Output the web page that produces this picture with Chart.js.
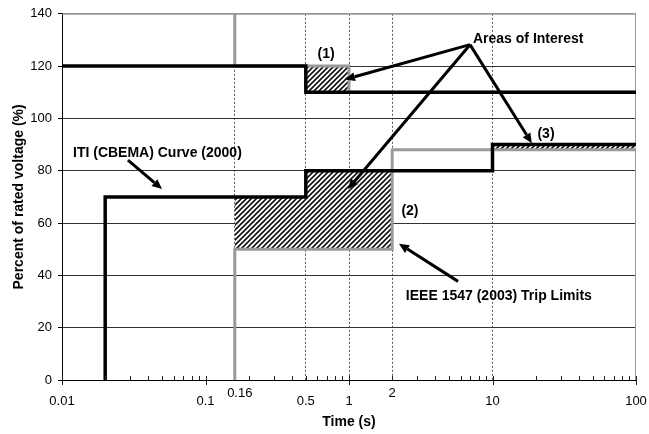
<!DOCTYPE html>
<html>
<head>
<meta charset="utf-8">
<script src="https://cdn.jsdelivr.net/npm/chart.js@4/dist/chart.umd.min.js"></script>
<style>
  body { margin: 0; background: #fff; }
  #wrap { width: 649px; height: 434px; }
</style>
</head>
<body>
<div id="wrap"><canvas id="chart" width="649" height="434"></canvas></div>
<script>
// ITI (CBEMA) curve, black
const itiUpperX = [0.01, 0.5, 0.5, 100];
const itiUpperY = [120, 120, 110, 110];
const itiLowerX = [0.02, 0.02, 0.5, 0.5, 10, 10, 100];
const itiLowerY = [0, 70, 70, 80, 80, 90, 90];

// IEEE 1547 (2003) trip limits, grey
const ieeeUpperX = [0.16, 0.16, 1, 1, 100];
const ieeeUpperY = [140, 120, 120, 110, 110];
const ieeeLowerX = [0.16, 0.16, 2, 2, 100];
const ieeeLowerY = [0, 50, 50, 88, 88];

// hatched areas of interest (top edge + base value)
const area1X = [0.5, 1];
const area1Top = [120, 120];
const area1Base = 110;
const area2X = [0.16, 0.5, 0.5, 2];
const area2Top = [70, 70, 80, 80];
const area2Base = 50;
const area3X = [10, 100];
const area3Top = [90, 90];
const area3Base = 88;

// axis ticks
const xTickValues = [0.01, 0.1, 0.16, 0.5, 1, 2, 10, 100];
const xTickLabels = ['0.01', '0.1', '0.16', '0.5', '1', '2', '10', '100'];
const xDashedAt = [0.16, 0.5, 1, 2, 10];

const pts = (xs, ys) => xs.map((x, i) => ({ x: x, y: ys[i] }));

Chart.defaults.font.family = '"Liberation Sans", Arial, sans-serif';
Chart.defaults.color = '#000';

// diagonal hatch
const pc = document.createElement('canvas');
pc.width = 5; pc.height = 5;
const p = pc.getContext('2d');
p.fillStyle = '#fff';
p.fillRect(0, 0, 5, 5);
p.strokeStyle = '#111';
p.lineWidth = 1.6;
p.beginPath();
p.moveTo(0, 5); p.lineTo(5, 0);
p.moveTo(-1, 1); p.lineTo(1, -1);
p.moveTo(4, 6); p.lineTo(6, 4);
p.stroke();
const hatch = document.getElementById('chart').getContext('2d').createPattern(pc, 'repeat');

const overlay = {
  id: 'overlay',
  beforeDatasetsDraw(chart) {
    const { ctx, chartArea: a } = chart;
    ctx.save();
    ctx.strokeStyle = '#999';
    ctx.lineWidth = 1;
    ctx.beginPath();
    ctx.moveTo(a.left, a.top + 0.5);
    ctx.lineTo(a.right - 0.5, a.top + 0.5);
    ctx.lineTo(a.right - 0.5, a.bottom);
    ctx.stroke();
    ctx.restore();
  },
  afterDraw(chart) {
    const { ctx, chartArea: a, scales: { x, y } } = chart;
    ctx.save();

    // x tick marks, major decades cross the axis, minor ones point inward
    ctx.strokeStyle = '#222';
    ctx.lineWidth = 1;
    for (let e = -2; e <= 2; e++) {
      for (let m = 1; m <= 9; m++) {
        const v = m * Math.pow(10, e);
        if (v > 100.0001) break;
        const px = Math.round(x.getPixelForValue(v)) + 0.5;
        ctx.beginPath();
        ctx.moveTo(px, a.bottom - 4);
        ctx.lineTo(px, m === 1 ? a.bottom + 5 : a.bottom);
        ctx.stroke();
      }
    }

    // x tick labels (0.16 and 2 sit a little higher)
    ctx.font = '13px "Liberation Sans", Arial, sans-serif';
    ctx.fillStyle = '#000';
    ctx.textAlign = 'center';
    ctx.textBaseline = 'middle';
    xTickValues.forEach((v, i) => {
      const raised = v === 0.16 || v === 2;
      const dx = v === 0.16 ? 5 : 0;
      ctx.fillText(xTickLabels[i], x.getPixelForValue(v) + dx, a.bottom + (raised ? 13 : 21));
    });

    // annotations
    const P = (vx, vy) => [x.getPixelForValue(vx), y.getPixelForValue(vy)];
    const arrow = (from, to) => {
      const [x0, y0] = P(from[0], from[1]);
      const [x1, y1] = P(to[0], to[1]);
      const ang = Math.atan2(y1 - y0, x1 - x0);
      const len = 10, half = 4.5;
      const bx = x1 - len * Math.cos(ang), by = y1 - len * Math.sin(ang);
      ctx.strokeStyle = '#000';
      ctx.lineWidth = 3;
      ctx.beginPath();
      ctx.moveTo(x0, y0);
      ctx.lineTo(bx, by);
      ctx.stroke();
      ctx.fillStyle = '#000';
      ctx.beginPath();
      ctx.moveTo(x1, y1);
      ctx.lineTo(bx + half * Math.sin(ang), by - half * Math.cos(ang));
      ctx.lineTo(bx - half * Math.sin(ang), by + half * Math.cos(ang));
      ctx.closePath();
      ctx.fill();
    };
    const apex = [6.97, 128.2];
    arrow(apex, [0.937, 114.9]);
    arrow(apex, [0.984, 73]);
    arrow(apex, [18.8, 90.5]);
    arrow([0.0288, 84.1], [0.0498, 73]);
    arrow([5.75, 37.7], [2.23, 52.1]);

    ctx.font = 'bold 14px "Liberation Sans", Arial, sans-serif';
    ctx.fillStyle = '#000';
    ctx.textBaseline = 'middle';
    const label = (text, vx, vy, align) => {
      const [px, py] = P(vx, vy);
      ctx.textAlign = align;
      ctx.fillText(text, px, py);
    };
    label('Areas of Interest', 7.31, 130.5, 'left');
    label('(1)', 0.692, 124.4, 'center');
    label('(2)', 2.66, 64.7, 'center');
    label('(3)', 23.6, 94, 'center');
    label('ITI (CBEMA) Curve (2000)', 0.01193, 86.7, 'left');
    label('IEEE 1547 (2003) Trip Limits', 2.49, 32, 'left');

    ctx.restore();
  }
};

new Chart(document.getElementById('chart'), {
  type: 'line',
  data: {
    datasets: [
      { label: 'ITI upper', data: pts(itiUpperX, itiUpperY), borderColor: '#000', borderWidth: 3.5, fill: false },
      { label: 'ITI lower', data: pts(itiLowerX, itiLowerY), borderColor: '#000', borderWidth: 3.5, fill: false },
      { label: 'IEEE upper', data: pts(ieeeUpperX, ieeeUpperY), borderColor: '#9a9a9a', borderWidth: 3, borderDash: [3, 1], fill: false },
      { label: 'IEEE lower', data: pts(ieeeLowerX, ieeeLowerY), borderColor: '#9a9a9a', borderWidth: 3, borderDash: [3, 1], fill: false },
      { label: 'Area 1', data: pts(area1X, area1Top), borderWidth: 0, backgroundColor: hatch, fill: { value: area1Base } },
      { label: 'Area 2', data: pts(area2X, area2Top), borderWidth: 0, backgroundColor: hatch, fill: { value: area2Base } },
      { label: 'Area 3', data: pts(area3X, area3Top), borderWidth: 0, backgroundColor: hatch, fill: { value: area3Base } }
    ]
  },
  options: {
    responsive: false,
    animation: false,
    elements: { point: { radius: 0 }, line: { tension: 0, borderCapStyle: 'square', borderJoinStyle: 'miter' } },
    layout: { padding: { top: 12, right: 13, left: 0, bottom: 0 } },
    plugins: {
      legend: { display: false },
      tooltip: { enabled: false }
    },
    scales: {
      x: {
        type: 'logarithmic',
        min: 0.01,
        max: 100,
        afterBuildTicks: (s) => { s.ticks = xTickValues.map(v => ({ value: v })); },
        afterFit: (s) => { s.height = 54; },
        ticks: { display: false },
        grid: {
          drawTicks: false,
          lineWidth: 1,
          color: (c) => (c.tick && xDashedAt.includes(c.tick.value)) ? '#555' : 'rgba(0,0,0,0)'
        },
        border: { color: '#000', width: 1, dash: [2, 2] },
        title: { display: true, text: 'Time (s)', font: { size: 14, weight: 'bold' }, padding: { top: 0, bottom: 3 } }
      },
      y: {
        min: 0,
        max: 140,
        ticks: { stepSize: 20, font: { size: 13 }, padding: 6, color: '#000' },
        afterFit: (s) => { s.width = 62; },
        grid: {
          tickLength: 4,
          tickColor: '#000',
          lineWidth: 1,
          color: (c) => (c.tick && c.tick.value === 140) ? '#999' : '#333'
        },
        border: { color: '#000', width: 1 },
        title: { display: true, text: 'Percent of rated voltage (%)', font: { size: 14, weight: 'bold' }, padding: { top: 11, bottom: 0 } }
      }
    }
  },
  plugins: [overlay]
});
</script>
</body>
</html>
